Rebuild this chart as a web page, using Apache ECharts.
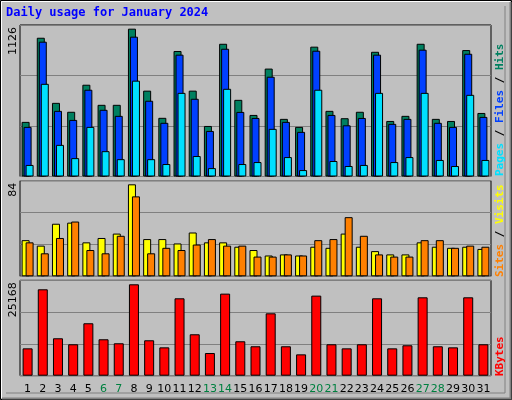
<!DOCTYPE html>
<html><head><meta charset="utf-8">
<script src="https://cdn.jsdelivr.net/npm/echarts@6/dist/echarts.min.js"></script>
<style>html,body{margin:0;padding:0;background:#c0c0c0}#c{width:512px;height:400px}</style>
</head><body><div id="c"></div>
<script>
const days = ['1','2','3','4','5','6','7','8','9','10','11','12','13','14','15','16','17','18','19','20','21','22','23','24','25','26','27','28','29','30','31'];
const weekend = ['6','7','13','14','20','21','27','28'];
const hits  = [416,1057,561,493,699,546,546,1126,654,447,956,654,385,1011,584,469,822,439,378,989,500,444,493,950,423,462,1011,439,423,963,484];
const files = [378,1027,500,431,661,508,462,1065,577,409,928,592,347,973,492,446,760,416,340,958,469,390,446,928,401,439,966,409,378,935,454];
const pages = [88,706,241,140,378,193,132,730,132,95,637,156,64,668,95,110,363,148,49,661,118,80,88,637,110,148,637,126,80,622,126];
const sites = [33,28,48,49,31,35,39,84,34,34,30,40,31,31,27,24,19,20,19,27,26,39,27,23,20,20,31,27,26,27,25];
const visits= [31,21,35,50,24,21,37,73,21,26,24,29,34,28,28,18,18,20,19,33,34,54,37,20,18,18,33,33,26,28,27];
const kbytes= [7532,23792,10306,8653,14440,10031,8929,25168,9755,7807,21312,11408,6246,22598,9480,8102,17178,8102,5878,22047,8653,7532,8653,21312,7532,8378,21587,8102,7807,21587,8653];
const yTop = ['1126','84','25168'];

const maxes=[1154,87.3,26270];
const tops=[25,180.7,280.3], heights=[151.5,95.6,95.4];
const grids=tops.map((t,i)=>({left:20,right:21,top:t,height:heights[i],show:true,borderColor:'#000',borderWidth:1,backgroundColor:'transparent'}));
const xAxes=[0,1,2].map(i=>({type:'category',data:days,gridIndex:i,axisLine:{show:false},axisTick:{show:false},
  axisLabel:{show:i===2,interval:0,margin:8,fontFamily:'DejaVu Sans',fontSize:11,
    color:(v)=>weekend.includes(v)?'#008040':'#000'}}));
const yAxes=[0,1,2].map(i=>({type:'value',gridIndex:i,min:0,max:maxes[i],interval:maxes[i]/3,
  axisLabel:{show:false},axisLine:{show:false},axisTick:{show:false},splitLine:{lineStyle:{color:'#808080',width:1}}}));
const bs={borderColor:'#000',borderWidth:1};
const series=[
 {type:'bar',data:hits,xAxisIndex:0,yAxisIndex:0,barWidth:8,barGap:'-75%',itemStyle:{color:'#008060',...bs}},
 {type:'bar',data:files,xAxisIndex:0,yAxisIndex:0,barWidth:8,barGap:'-75%',itemStyle:{color:'#0040ff',...bs}},
 {type:'bar',data:pages,xAxisIndex:0,yAxisIndex:0,barWidth:8,barGap:'-75%',itemStyle:{color:'#00e0ff',...bs}},
 {type:'bar',data:sites,xAxisIndex:1,yAxisIndex:1,barWidth:8,barGap:'-50%',itemStyle:{color:'#ffff00',...bs}},
 {type:'bar',data:visits,xAxisIndex:1,yAxisIndex:1,barWidth:8,barGap:'-50%',itemStyle:{color:'#ff8000',...bs}},
 {type:'bar',data:kbytes,xAxisIndex:2,yAxisIndex:2,barWidth:10,itemStyle:{color:'#ff0000',...bs}}
];
const mono='"DejaVu Sans Mono", monospace';
const graphic=[
 {type:'rect',shape:{x:0.5,y:0.5,width:511,height:399},style:{fill:'none',stroke:'#000',lineWidth:1}},
 {type:'polyline',shape:{points:[[1.5,398],[1.5,1.5],[510,1.5]]},style:{fill:'none',stroke:'#fff',lineWidth:1}},
 {type:'polyline',shape:{points:[[2,398.5],[510.5,398.5],[510.5,2]]},style:{fill:'none',stroke:'#808080',lineWidth:2}},
 {type:'polyline',shape:{points:[[505,393],[505,6]]},style:{fill:'none',stroke:'#808080',lineWidth:1}},
 {type:'polyline',shape:{points:[[6,393],[505,393]]},style:{fill:'none',stroke:'#808080',lineWidth:1}},
 {type:'text',left:6,top:7,style:{text:'Daily usage for January 2024',fill:'#0000ff',font:'bold 12px '+mono}},
 ...yTop.map((t,i)=>({type:'text',x:8,y:tops[i]+2,rotation:Math.PI/2,style:{text:t,fill:'#000',font:'11px "DejaVu Sans"',align:'right',verticalAlign:'top'}})),
 {type:'text',x:495,y:176,rotation:Math.PI/2,style:{text:'{p|Pages} {s|/} {f|Files} {s|/} {h|Hits}',align:'left',verticalAlign:'top',font:'bold 11px '+mono,
   rich:{p:{fill:'#00e0ff',font:'bold 11px '+mono},s:{fill:'#000',font:'bold 11px '+mono},f:{fill:'#0040ff',font:'bold 11px '+mono},h:{fill:'#008060',font:'bold 11px '+mono}}}},
 {type:'text',x:495,y:277,rotation:Math.PI/2,style:{text:'{a|Sites} {s|/} {b|Visits}',align:'left',verticalAlign:'top',font:'bold 11px '+mono,
   rich:{a:{fill:'#ff8000',font:'bold 11px '+mono},s:{fill:'#000',font:'bold 11px '+mono},b:{fill:'#ffff00',font:'bold 11px '+mono}}}},
 {type:'text',x:495,y:376,rotation:Math.PI/2,style:{text:'KBytes',fill:'#ff0000',align:'left',verticalAlign:'top',font:'bold 11px '+mono}}
];
const chart=echarts.init(document.getElementById('c'));
chart.setOption({backgroundColor:'#c0c0c0',animation:false,grid:grids,xAxis:xAxes,yAxis:yAxes,series,graphic});
</script></body></html>
